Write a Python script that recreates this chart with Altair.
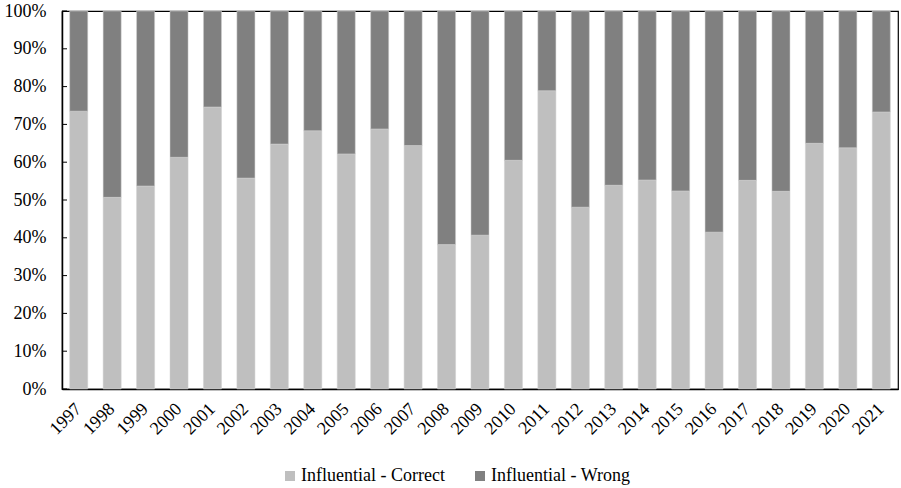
import altair as alt
import pandas as pd

# Share of influential forecasts per year, in percent
years = [str(y) for y in range(1997, 2022)]
correct = [73.5, 50.7, 53.7, 61.3, 74.6, 55.8, 64.8, 68.3, 62.2, 68.8, 64.4, 38.2, 40.7,
           60.5, 78.9, 48.1, 53.9, 55.3, 52.4, 41.5, 55.2, 52.3, 65.0, 63.8, 73.3]
wrong = [26.5, 49.3, 46.3, 38.7, 25.4, 44.2, 35.2, 31.7, 37.8, 31.2, 35.6, 61.8, 59.3,
         39.5, 21.1, 51.9, 46.1, 44.7, 47.6, 58.5, 44.8, 47.7, 35.0, 36.2, 26.7]
series = ["Influential - Correct", "Influential - Wrong"]
series_colors = ["#bfbfbf", "#808080"]
y_ticks = [i / 10 for i in range(11)]

rows = []
for i, yr in enumerate(years):
    rows.append({"year": yr, "series": series[0], "value": correct[i], "order": 0})
    rows.append({"year": yr, "series": series[1], "value": wrong[i], "order": 1})
df = pd.DataFrame(rows)

FONT = "Liberation Serif"
FS = 18

y_axis = alt.Axis(
    values=y_ticks,
    format=".0%",
    grid=False,
    ticks=False,
    labelOverlap=False,
    labelPadding=16,
    domainColor="black",
    domainWidth=1.5,
    labelFont=FONT,
    labelFontSize=FS,
    labelColor="black",
)
y_scale = alt.Scale(domain=[0, 1])

bars = alt.Chart(df).mark_bar(stroke="#d0d0d0", strokeWidth=0.5).encode(
    x=alt.X(
        "year:N",
        sort=years,
        title=None,
        scale=alt.Scale(paddingInner=0.46, paddingOuter=0.23),
        axis=alt.Axis(
            labelAngle=-45,
            labelAlign="right",
            labelBaseline="middle",
            labelPadding=17,
            ticks=False,
            domainColor="black",
            domainWidth=1.5,
            labelFont=FONT,
            labelFontSize=FS,
            labelColor="black",
        ),
    ),
    y=alt.Y("value:Q", stack="normalize", title=None, scale=y_scale, axis=y_axis),
    color=alt.Color(
        "series:N",
        scale=alt.Scale(domain=series, range=series_colors),
        legend=alt.Legend(
            title=None,
            orient="none",
            direction="horizontal",
            legendX=219,
            legendY=456,
            symbolType="square",
            symbolSize=100,
            symbolStrokeWidth=0,
            labelFont=FONT,
            labelFontSize=FS,
            labelColor="black",
            columnPadding=26,
            labelOffset=2,
        ),
    ),
    order=alt.Order("order:Q", sort="ascending"),
)

# short inward tick marks on the value axis
ticks = alt.Chart(pd.DataFrame({"t": y_ticks})).mark_rule(color="black", strokeWidth=1).encode(
    y=alt.Y("t:Q", title=None, scale=y_scale, axis=y_axis),
    x=alt.value(0),
    x2=alt.value(5),
)

chart = alt.layer(bars, ticks).properties(
    width=836,
    height=378,
    padding={"left": 62, "top": 11, "right": 3, "bottom": 99},
    autosize=alt.AutoSizeParams(type="none"),
    background="white",
).configure(font=FONT).configure_view(stroke="black", strokeWidth=1.2)

chart.save("out.html", embed_options={"renderer": "svg", "actions": False})
